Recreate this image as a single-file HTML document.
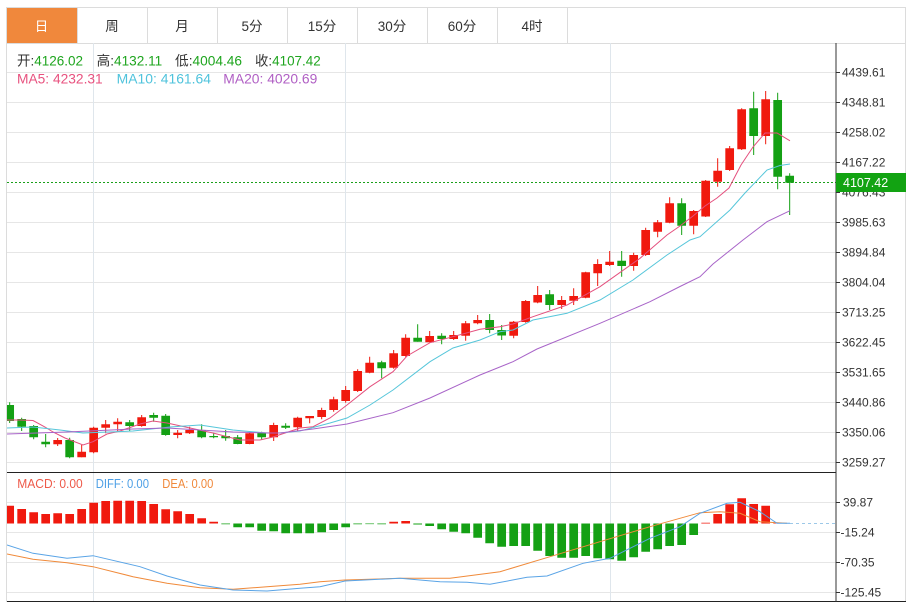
<!DOCTYPE html>
<html>
<head>
<meta charset="utf-8">
<style>
html,body{margin:0;padding:0;background:#fff;}
body{width:913px;height:603px;overflow:hidden;}
svg{display:block;font-family:"Liberation Sans","Noto Sans CJK SC",sans-serif;}
</style>
</head>
<body>
<svg width="913" height="603" viewBox="0 0 913 603" xmlns="http://www.w3.org/2000/svg">
<defs>
<clipPath id="cm"><rect x="7" y="43" width="829" height="430"/></clipPath>
<clipPath id="cd"><rect x="7" y="473" width="829" height="129"/></clipPath>
</defs>
<rect x="0" y="0" width="913" height="603" fill="#fff"/>

<rect x="7" y="7" width="70" height="36.5" fill="#f0883c"/>
<path fill="none" stroke="#dcdcdc" stroke-width="1" d="M7 7.5H906M7 43.5H906M77.5 7V43M147.5 7V43M217.5 7V43M287.5 7V43M357.5 7V43M427.5 7V43M497.5 7V43M567.5 7V43M6.5 7V602M905.5 7V602"/>
<g font-size="13.5" text-anchor="middle" fill="#333">
<text x="41.5" y="31" fill="#fff">日</text>
<text x="112" y="31">周</text>
<text x="182" y="31">月</text>
<text x="252" y="31">5分</text>
<text x="322" y="31">15分</text>
<text x="392" y="31">30分</text>
<text x="462" y="31">60分</text>
<text x="532" y="31">4时</text>
</g>

<path fill="none" stroke="#e6e6e6" stroke-width="1" d="M7 72.5H836M7 102.5H836M7 132.5H836M7 162.5H836M7 192.5H836M7 222.5H836M7 252.5H836M7 282.5H836M7 312.5H836M7 342.5H836M7 372.5H836M7 402.5H836M7 432.5H836M7 462.5H836M7 502.5H836M7 532.5H836M7 562.5H836M7 592.5H836"/>
<path fill="none" stroke="#dfe6ec" stroke-width="1" d="M93.5 43V602M345.5 43V602M610.5 43V602"/>

<g font-size="13.5">
<text x="17" y="65.5" textLength="66" lengthAdjust="spacingAndGlyphs"><tspan fill="#333">开:</tspan><tspan fill="#1ea51e">4126.02</tspan></text>
<text x="96.7" y="65.5" textLength="65.5" lengthAdjust="spacingAndGlyphs"><tspan fill="#333">高:</tspan><tspan fill="#1ea51e">4132.11</tspan></text>
<text x="175" y="65.5" textLength="67" lengthAdjust="spacingAndGlyphs"><tspan fill="#333">低:</tspan><tspan fill="#1ea51e">4004.46</tspan></text>
<text x="255" y="65.5" textLength="65.7" lengthAdjust="spacingAndGlyphs"><tspan fill="#333">收:</tspan><tspan fill="#1ea51e">4107.42</tspan></text>
<text x="17" y="83.5" fill="#e8527f" textLength="85.7" lengthAdjust="spacingAndGlyphs">MA5: 4232.31</text>
<text x="116.7" y="83.5" fill="#4fc3dc" textLength="94.3" lengthAdjust="spacingAndGlyphs">MA10: 4161.64</text>
<text x="223.3" y="83.5" fill="#b05fc4" textLength="94" lengthAdjust="spacingAndGlyphs">MA20: 4020.69</text>
</g>

<line x1="7" y1="182.5" x2="836" y2="182.5" stroke="#1aa01a" stroke-width="1" stroke-dasharray="2,2"/>

<g clip-path="url(#cm)">
<path fill="none" stroke="#f0190e" stroke-width="1" d="M57.67 438V446M81.67 445V457.3M93.67 426.7V453.3M105.67 420V433.3M117.67 418.3V431.7M141.67 415V426.7M177.67 430V438.3M189.67 426.7V434M249.67 431.7V444.3M273.67 422.7V441M297.67 416.7V430.7M309.67 416V423.3M321.67 407.7V419.3M333.67 396.7V411.7M345.67 386V402.7M357.67 369.3V392M369.67 356.7V373.3M393.67 350V368.7M405.67 334.3V356.7M429.67 331V342.3M453.67 331V340M465.67 321V340.7M477.67 315V324.3M513.67 321V338.3M525.67 300V322.7M537.67 286V303.3M561.67 296V309M573.67 288.3V305M585.67 271.7V298.3M597.67 259.3V286M609.67 251V266M633.67 252.7V270.7M645.67 227.7V256M657.67 220V237.3M669.67 197.3V223.3M693.67 210V234.3M705.67 180V217M717.67 158.3V186.7M729.67 146V171M741.67 108.3V150M765.67 91V144.3"/>
<path fill="#f0190e" d="M53.32 440h8.7v4.3h-8.7zM77.32 451.7h8.7v5.6h-8.7zM89.32 427.7h8.7v24.6h-8.7zM101.32 424.3h8.7v3.4h-8.7zM113.32 421.7h8.7v2.6h-8.7zM137.32 417.3h8.7v8.7h-8.7zM173.32 432.7h8.7v2.3h-8.7zM185.32 430h8.7v3.3h-8.7zM245.32 433.3h8.7v10.7h-8.7zM269.32 425h8.7v12.3h-8.7zM293.32 417.7h8.7v9.6h-8.7zM305.32 416h8.7v2.3h-8.7zM317.32 410h8.7v7h-8.7zM329.32 399.3h8.7v10.7h-8.7zM341.32 390h8.7v11h-8.7zM353.32 371h8.7v20h-8.7zM365.32 362.7h8.7v10h-8.7zM389.32 353.3h8.7v14.4h-8.7zM401.32 337.7h8.7v18.3h-8.7zM425.32 336h8.7v6.3h-8.7zM449.32 335h8.7v4h-8.7zM461.32 323.3h8.7v12.4h-8.7zM473.32 320h8.7v3.3h-8.7zM509.32 321.7h8.7v14h-8.7zM521.32 301h8.7v21h-8.7zM533.32 295h8.7v7.5h-8.7zM557.32 300h8.7v5h-8.7zM569.32 296h8.7v4.7h-8.7zM581.32 272.3h8.7v25.4h-8.7zM593.32 264h8.7v9.3h-8.7zM605.32 261.7h8.7v3.3h-8.7zM629.32 255h8.7v11h-8.7zM641.32 230h8.7v25h-8.7zM653.32 222.3h8.7v9.4h-8.7zM665.32 203.3h8.7v19.4h-8.7zM689.32 211h8.7v14.7h-8.7zM701.32 180.7h8.7v35.8h-8.7zM713.32 170.7h8.7v11h-8.7zM725.32 148.3h8.7v21.7h-8.7zM737.32 109.3h8.7v40h-8.7zM761.32 99.3h8.7v36.7h-8.7z"/>
<path fill="none" stroke="#14a014" stroke-width="1" d="M9.67 402.3V423M21.67 417.7V431M33.67 425V439.3M45.67 434V447.3M69.67 437.7V458.3M129.67 420V431M153.67 412.7V421.7M165.67 414V435.7M201.67 424.3V438.3M213.67 432.7V438.3M225.67 430V440.7M237.67 435V444.3M261.67 431.7V440M285.67 423.3V429M381.67 360.7V378.3M417.67 324.3V341.7M441.67 333.3V344.3M489.67 314V333.3M501.67 325V340M549.67 290V310M621.67 251V276.7M681.67 198.3V235M753.67 91.7V155M777.67 92.7V189.3M789.67 173.3V215"/>
<path fill="#14a014" d="M5.32 405h8.7v16h-8.7zM17.32 419h8.7v7.7h-8.7zM29.32 426h8.7v11.3h-8.7zM41.32 441.7h8.7v2.6h-8.7zM65.32 440h8.7v17.3h-8.7zM125.32 422.3h8.7v3.7h-8.7zM149.32 415h8.7v2.7h-8.7zM161.32 415.7h8.7v19.3h-8.7zM197.32 430h8.7v7.3h-8.7zM209.32 436h8.7v1.3h-8.7zM221.32 436h8.7v2.3h-8.7zM233.32 437.3h8.7v6.7h-8.7zM257.32 432.7h8.7v4.6h-8.7zM281.32 425.7h8.7v2h-8.7zM377.32 362.3h8.7v6h-8.7zM413.32 337.7h8.7v4h-8.7zM437.32 335.7h8.7v3.3h-8.7zM485.32 320h8.7v10h-8.7zM497.32 330h8.7v5.5h-8.7zM545.32 294.3h8.7v10.7h-8.7zM617.32 260.7h8.7v5.3h-8.7zM677.32 203.3h8.7v22.4h-8.7zM749.32 108.3h8.7v27.7h-8.7zM773.32 100h8.7v76.7h-8.7zM785.32 175.7h8.7v7h-8.7z"/>
<polyline fill="none" stroke="#e4507e" stroke-width="1" points="7,420 20,420 33,420.5 45,427 53,432 65,438 83,445 93,441.7 107,434 120,431 140,424 153,421 167,423 190,428 213,433 240,440 260,440 273,437 300,428 313,426.7 330,418 347,405 370,386.7 393,371.7 407,356 430,342.7 453,336.7 480,329.3 500,326.7 513,324 533,316.7 567,305 600,286.7 640,258.3 667,235 680,226 693,216 705,206 717,198 729,188 741,165 753,147 765,133 777,133 790,140.8"/>
<polyline fill="none" stroke="#56c6da" stroke-width="1" points="7,428 33,427 60,430 83,433 133,431 170,427 200,425 233,430 267,433 280,433 300,431 330,423 347,418 370,405 393,390 430,361.7 453,348 480,340 500,331.7 513,330 533,320 567,313.3 600,300 633,280 667,255 690,240 700,236.7 730,210 745,193 767,170 780,165.5 790,164"/>
<polyline fill="none" stroke="#a864c8" stroke-width="1" points="7,434 67,432 133,429 167,428 233,432 267,433 280,433 313,429 347,424 393,412.7 430,398 480,375 513,361.7 537,349 600,323.3 650,301.7 680,286.5 700,276.7 713,264 743,240 767,221.7 790,210.7"/>
</g>

<g font-size="12.5">
<text x="17.3" y="488" fill="#ee5a4a" textLength="65.4" lengthAdjust="spacingAndGlyphs">MACD: 0.00</text>
<text x="95.7" y="488" fill="#4ea0e6" textLength="53.3" lengthAdjust="spacingAndGlyphs">DIFF: 0.00</text>
<text x="162.3" y="488" fill="#f0883a" textLength="51" lengthAdjust="spacingAndGlyphs">DEA: 0.00</text>
</g>

<g clip-path="url(#cd)">
<line x1="790" y1="523.5" x2="836" y2="523.5" stroke="#9cc8e8" stroke-width="1" stroke-dasharray="3,3"/>
<path fill="#f0190e" d="M5.32 505.7h8.7v17.8h-8.7zM17.32 509h8.7v14.5h-8.7zM29.32 512.3h8.7v11.2h-8.7zM41.32 514h8.7v9.5h-8.7zM53.32 513.3h8.7v10.2h-8.7zM65.32 514h8.7v9.5h-8.7zM77.32 509h8.7v14.5h-8.7zM89.32 502.7h8.7v20.8h-8.7zM101.32 501h8.7v22.5h-8.7zM113.32 500.7h8.7v22.8h-8.7zM125.32 500.7h8.7v22.8h-8.7zM137.32 501h8.7v22.5h-8.7zM149.32 504h8.7v19.5h-8.7zM161.32 509.3h8.7v14.2h-8.7zM173.32 511.3h8.7v12.2h-8.7zM185.32 514h8.7v9.5h-8.7zM197.32 518.3h8.7v5.2h-8.7zM209.32 521.7h8.7v1.8h-8.7zM389.32 521.7h8.7v1.8h-8.7zM401.32 521h8.7v2.5h-8.7zM701.32 522.8h8.7v0.7h-8.7zM713.32 514h8.7v9.5h-8.7zM725.32 504.3h8.7v19.2h-8.7zM737.32 498.3h8.7v25.2h-8.7zM749.32 504h8.7v19.5h-8.7zM761.32 505.7h8.7v17.8h-8.7zM773.32 522.8h8.7v0.7h-8.7z"/>
<path fill="#14a014" d="M221.32 523.5h8.7v0.8h-8.7zM233.32 523.5h8.7v3.8h-8.7zM245.32 523.5h8.7v3.8h-8.7zM257.32 523.5h8.7v7.2h-8.7zM269.32 523.5h8.7v7.8h-8.7zM281.32 523.5h8.7v9.8h-8.7zM293.32 523.5h8.7v9.8h-8.7zM305.32 523.5h8.7v9.8h-8.7zM317.32 523.5h8.7v8.8h-8.7zM329.32 523.5h8.7v6.5h-8.7zM341.32 523.5h8.7v3.8h-8.7zM353.32 523.5h8.7v0.8h-8.7zM365.32 523.5h8.7v0.6h-8.7zM377.32 523.5h8.7v0.7h-8.7zM413.32 523.5h8.7v1h-8.7zM425.32 523.5h8.7v2.5h-8.7zM437.32 523.5h8.7v5.8h-8.7zM449.32 523.5h8.7v8.2h-8.7zM461.32 523.5h8.7v9.8h-8.7zM473.32 523.5h8.7v14.2h-8.7zM485.32 523.5h8.7v19.8h-8.7zM497.32 523.5h8.7v23.2h-8.7zM509.32 523.5h8.7v22.5h-8.7zM521.32 523.5h8.7v22.5h-8.7zM533.32 523.5h8.7v27.2h-8.7zM545.32 523.5h8.7v32.5h-8.7zM557.32 523.5h8.7v34.2h-8.7zM569.32 523.5h8.7v34.2h-8.7zM581.32 523.5h8.7v32.5h-8.7zM593.32 523.5h8.7v34.8h-8.7zM605.32 523.5h8.7v35.8h-8.7zM617.32 523.5h8.7v37.2h-8.7zM629.32 523.5h8.7v33.8h-8.7zM641.32 523.5h8.7v28.2h-8.7zM653.32 523.5h8.7v25.8h-8.7zM665.32 523.5h8.7v22.5h-8.7zM677.32 523.5h8.7v21.5h-8.7zM689.32 523.5h8.7v11.5h-8.7z"/>
<polyline fill="none" stroke="#f08a3a" stroke-width="1" points="7,554 33,559.3 67,562.7 93,566.7 133,576.7 167,583.3 200,587.7 233,589.3 267,586.7 300,584.3 320,581.7 345,580 400,578.3 450,578.3 500,571.7 550,556.7 600,541.7 650,526.7 700,512.7 720,511.7 740,513.3 760,521.7 787,523.3"/>
<polyline fill="none" stroke="#5aa4e6" stroke-width="1" points="7,545 33,553.3 67,558.3 93,555.7 140,566.7 167,576 200,585 233,590 267,591 300,588.3 320,586.7 345,581 400,578.3 440,581.7 467,582.3 490,584.3 527,577.3 547,576 583,563.3 610,558.3 650,538.3 680,526.7 700,513.3 727,503.3 740,502.3 760,511.7 777,523.3 790,523.3"/>
</g>

<path fill="none" stroke="#222" stroke-width="1" d="M7 472.5H836M7 601.5H906"/>
<path fill="none" stroke="#333" stroke-width="1" d="M836 43V602M836 72.5h4M836 102.5h4M836 132.5h4M836 162.5h4M836 192.5h4M836 222.5h4M836 252.5h4M836 282.5h4M836 312.5h4M836 342.5h4M836 372.5h4M836 402.5h4M836 432.5h4M836 462.5h4M836 502.5h4M836 532.5h4M836 562.5h4M836 592.5h4"/>

<g font-size="12" fill="#333">
<text x="842" y="76.5">4439.61</text>
<text x="842" y="106.5">4348.81</text>
<text x="842" y="136.5">4258.02</text>
<text x="842" y="166.5">4167.22</text>
<text x="842" y="196.5">4076.43</text>
<text x="842" y="226.5">3985.63</text>
<text x="842" y="256.5">3894.84</text>
<text x="842" y="286.5">3804.04</text>
<text x="842" y="316.5">3713.25</text>
<text x="842" y="346.5">3622.45</text>
<text x="842" y="376.5">3531.65</text>
<text x="842" y="406.5">3440.86</text>
<text x="842" y="436.5">3350.06</text>
<text x="842" y="466.5">3259.27</text>
<text x="843" y="506.5">39.87</text>
<text x="840.5" y="536.5">-15.24</text>
<text x="840.5" y="566.5">-70.35</text>
<text x="840.5" y="596.5">-125.45</text>
</g>

<rect x="836" y="173" width="70" height="19" fill="#12a312"/>
<text x="843" y="186.8" font-size="12.5" fill="#fff">4107.42</text>
</svg>
</body>
</html>
